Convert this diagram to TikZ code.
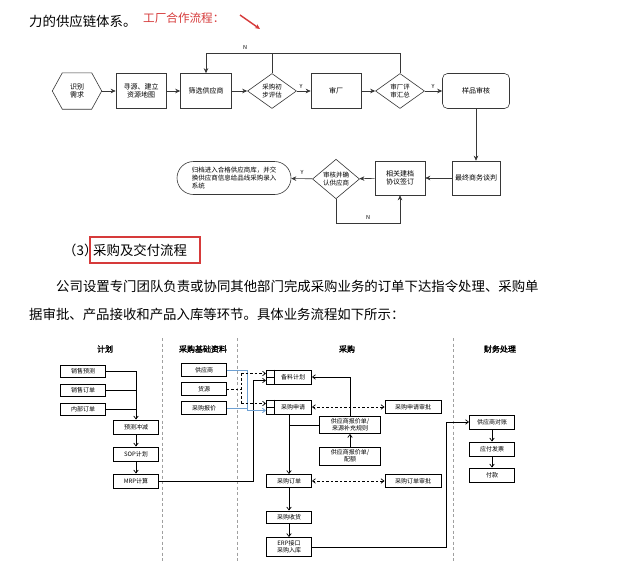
\documentclass[tikz,border=0pt]{standalone}
\usepackage{fontspec}
\setmainfont{Noto Sans CJK SC}
\newfontfamily\hdfont[FakeBold=2]{Noto Sans CJK SC}
\usetikzlibrary{arrows.meta,shapes.geometric,shapes.misc,calc}
\definecolor{redc}{RGB}{214,58,58}
\definecolor{bluec}{RGB}{110,160,210}
\definecolor{lanec}{RGB}{160,160,160}
\definecolor{linec}{RGB}{55,55,55}
\tikzset{
 fbox/.style={draw=linec, line width=0.6pt, minimum width=50pt, minimum height=35pt, inner sep=1pt, align=center, font=\fontsize{7}{8.5}\selectfont},
 fdia/.style={diamond, draw=linec, line width=0.6pt, minimum width=49pt, minimum height=35pt, inner sep=0pt, align=center, font=\fontsize{6.5}{7.5}\selectfont},
 farr/.style={draw=linec, line width=0.6pt, -{Stealth[length=5pt,width=4.5pt]}},
 fline/.style={draw=linec, line width=0.6pt},
 flab/.style={font=\fontsize{5.5}{6}\selectfont, inner sep=0.5pt},
 pbox/.style={draw=black, line width=0.9pt, minimum width=45pt, minimum height=13pt, inner sep=0.5pt, align=center, font=\fontsize{6}{7}\selectfont},
 barr/.style={draw=black, line width=0.7pt, -{Straight Barb[length=3pt,width=4.5pt]}},
 bline/.style={draw=black, line width=0.7pt},
 dsline/.style={draw=black, line width=0.7pt, dash pattern=on 2.5pt off 2pt},
 dsarr/.style={dsline, -{Straight Barb[length=3pt,width=4.5pt]}},
 ddarr/.style={dsline, {Straight Barb[length=3pt,width=4.5pt]}-{Straight Barb[length=3pt,width=4.5pt]}},
 blarr/.style={draw=bluec, line width=0.8pt, -{Straight Barb[length=3pt,width=4.5pt]}},
 blline/.style={draw=bluec, line width=0.8pt},
 lane/.style={draw=lanec, line width=0.6pt, dash pattern=on 3pt off 2.5pt},
 hd/.style={font=\hdfont\fontsize{8}{9}\selectfont, inner sep=1pt},
 body/.style={font=\fontsize{13.4}{16}\selectfont, inner sep=0pt, anchor=west}
}
\begin{document}
\begin{tikzpicture}[x=1pt,y=-1pt]
\fill[white] (0,0) rectangle (620,565);
\useasboundingbox (0,0) rectangle (620,565);

% top text
\node[body] (t0) at (29,21) {力的供应链体系。};
\node[font=\fontsize{11.6}{13}\selectfont, text=redc, inner sep=0pt, anchor=west] (t1) at (143,18) {工厂合作流程：};
\coordinate (ra) at (240,15);
\coordinate (rb) at (260,29);
\draw[redc, line width=1.4pt, -{Stealth[length=5pt,width=4.5pt]}] (ra) -- (rb);

% ---------- factory flow ----------
\node[minimum width=49pt, minimum height=36pt, inner sep=0pt, align=center, font=\fontsize{7}{8.5}\selectfont] (n1) at (77,91) {识别\\需求};
\draw[fline] (n1.west) -- ($(n1.north west)+(10,0)$) -- ($(n1.north east)+(-10,0)$) -- (n1.east) -- ($(n1.south east)+(-10,0)$) -- ($(n1.south west)+(10,0)$) -- cycle;
\node[fbox] (n2) at (141,91) {寻源、建立\\资源地图};
\node[fbox, minimum width=51pt] (n3) at (206,91) {筛选供应商};
\node[fdia] (d1) at (272,91) {采购初\\步评估};
\node[fbox] (n4) at (336,91) {审厂};
\node[fdia] (d2) at (400,91) {审厂评\\审汇总};
\node[fbox, rounded corners=5pt, minimum width=67pt] (n5) at (476,91) {样品审核};
\node[fbox, minimum width=48pt, minimum height=34pt] (n6) at (476,178) {最终商务谈判};
\node[fbox, minimum height=34pt] (n7) at (400,178) {相关建档\\协议签订};
\node[fdia, minimum width=47pt, minimum height=34pt] (d3) at (336,179) {审核并确\\认供应商};
\node[rounded rectangle, draw=linec, line width=0.6pt, minimum width=116pt, minimum height=33pt, inner sep=1pt, align=left, font=\fontsize{6.5}{7.8}\selectfont] (n8) at (234,178) {归档进入合格供应商库，并交\\换供应商信息给品线采购录入\\系统};

\draw[farr] (n1) -- (n2);
\draw[farr] (n2) -- (n3);
\draw[farr] (n3) -- (d1);
\draw[farr] (d1) -- (n4);
\draw[farr] (n4) -- (d2);
\draw[farr] (d2) -- (n5);
\draw[farr] (n5) -- (n6);
\draw[farr] (n6) -- (n7);
\draw[farr] (n7) -- (d3);
\draw[farr] (d3) -- (n8);
\coordinate (tl) at (206,53);
\draw[farr] (d2.north) -- (d2.north |- tl) -- (tl) -- (n3.north);
\draw[fline] (d1.north) -- (d1.north |- tl);
\coordinate (nl) at (336,223);
\draw[farr] (d3.south) -- (nl) -| (n7.south);
\node[flab] (ln1) at (245,47) {N};
\node[flab] (ly1) at (301,86) {Y};
\node[flab] (ly2) at (433,86) {Y};
\node[flab] (ly3) at (302,172) {Y};
\node[flab] (ln2) at (368,217) {N};

% ---------- heading & paragraph ----------
\node[body] (h3a) at (63,250) {（3）};
\node[body] (h3b) at (93,250) {采购及交付流程};
\draw[redc, line width=1.3pt] (90,237) rectangle (200,263);
\node[body] (p1) at (56,286) {公司设置专门团队负责或协同其他部门完成采购业务的订单下达指令处理、采购单};
\node[body] (p2) at (29,314) {据审批、产品接收和产品入库等环节。具体业务流程如下所示：};

% ---------- procurement diagram ----------
\draw[lane] (162,338) -- (162,562);
\draw[lane] (237,338) -- (237,562);
\draw[lane] (453,338) -- (453,562);
\node[hd] (hh1) at (105,349) {计划};
\node[hd] (hh2) at (203,349) {采购基础资料};
\node[hd] (hh3) at (347,349) {采购};
\node[hd] (hh4) at (500,349) {财务处理};

\node[pbox, minimum height=12pt] (q1) at (83,371) {销售预测};
\node[pbox, minimum height=12pt] (q2) at (83,390) {销售订单};
\node[pbox, minimum height=12pt] (q3) at (83,409) {内部订单};
\node[pbox, minimum height=14pt] (q4) at (136,427) {预测冲减};
\node[pbox, minimum height=14pt] (q5) at (136,454) {SOP计划};
\node[pbox, minimum height=14pt] (q6) at (136,481) {MRP计算};

\node[pbox] (b1) at (204,370) {供应商};
\node[pbox] (b2) at (204,389) {货源};
\node[pbox] (b3) at (204,408) {采购报价};

\node[pbox, minimum height=14pt] (c1) at (289,377) {\hspace*{8pt}备料计划};
\node[pbox, minimum height=14pt] (c2) at (289,407) {\hspace*{8pt}采购申请};
\node[pbox, minimum width=56pt] (c3) at (413,407) {采购申请审批};
\node[pbox, minimum width=61pt, minimum height=17pt] (c4) at (350,425) {供应商报价单/\\来源补充规则};
\node[pbox, minimum width=61pt, minimum height=18pt] (c5) at (350,456) {供应商报价单/\\配额};
\node[pbox] (c6) at (289,481) {采购订单};
\node[pbox, minimum width=56pt] (c7) at (413,481) {采购订单审批};
\node[pbox, minimum height=12pt] (c8) at (289,517) {采购收货};
\node[pbox, minimum height=19pt] (c9) at (289,547) {ERP接口\\采购入库};

\node[pbox, minimum height=14pt] (f1) at (492,422) {供应商对账};
\node[pbox, minimum height=14pt] (f2) at (492,449) {应付发票};
\node[pbox, minimum height=14pt] (f3) at (492,475) {付款};

\foreach \n in {c1,c2}{
  \draw[black, line width=0.6pt] ($(\n.north west)+(8,0)$) -- ($(\n.south west)+(8,0)$);
  \draw[black, line width=0.6pt] (\n.west) -- ($(\n.west)+(8,0)$);
}
\coordinate (c1u) at ($(c1.west)+(0,-3.5)$);
\coordinate (c1d) at ($(c1.west)+(0,3.5)$);
\coordinate (c2u) at ($(c2.west)+(0,-3.5)$);
\coordinate (c2d) at ($(c2.west)+(0,3.5)$);

% plan column
\draw[barr] (q1.east) -| (q4.north);
\draw[bline] (q2.east) -- (q2.east -| q4.north);
\draw[bline] (q3.east) -- (q3.east -| q4.north);
\draw[barr] (q4) -- (q5);
\draw[barr] (q5) -- (q6);
\coordinate (mx) at (253,481);
\draw[barr] (q6.east) -- (mx) |- (c1d);

% base data
\coordinate (bj) at (247,370);
\draw[blarr] (b1.east) -- (bj) -- (bj |- c2d) -- (c2d);
\draw[blline] (b3.east) -- (b3.east -| bj);
\coordinate (dj) at (241,389);
\draw[dsline] (b2.east) -- (dj);
\draw[dsline] (dj |- c1u) -- (dj |- c2u);
\draw[dsarr] (dj |- c1u) -- (c1u);
\draw[dsarr] (dj |- c2u) -- (c2u);

% purchasing
\draw[barr] (c4.north) |- (c1.east);
\draw[barr] (c2.south) -- (c6.north);
\draw[bline] (c4.west) -- (c4.west -| c2.south);
\draw[barr] (c5.north) -- (c4.south);
\draw[ddarr] (c2.east) -- (c3.west);
\draw[ddarr] (c6.east) -- (c7.west);
\draw[barr] (c6) -- (c8);
\draw[barr] (c8) -- (c9);
\coordinate (fx) at (446,547);
\draw[barr] (c9.east) -- (fx) |- (f1.west);
\draw[barr] (f1) -- (f2);
\draw[barr] (f2) -- (f3);
\end{tikzpicture}
\end{document}
